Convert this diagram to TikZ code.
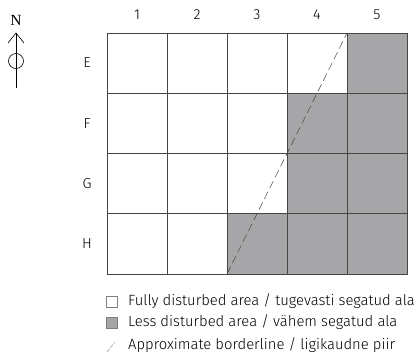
\documentclass[tikz,border=0pt]{standalone}
\usepackage{fontspec}
\setmainfont{Fira Sans}[UprightFont=* Light]
\newfontfamily\nfont{Liberation Serif}
\usepackage{tikz}

\definecolor{lessgray}{RGB}{166,166,169}
\definecolor{gridline}{RGB}{70,70,70}

\tikzset{
  cell/.style={draw=gridline, line width=0.9pt},
  lesscell/.style={cell, fill=lessgray},
  border/.style={dash pattern=on 8pt off 4pt, line width=0.5pt, draw=gridline},
  keybox/.style={draw=gridline!70, line width=0.5pt, minimum size=11pt, inner sep=0pt},
  keytext/.style={anchor=west, inner sep=0pt, font=\fontsize{14.8}{16}\selectfont},
  axis/.style={inner sep=0pt, font=\fontsize{14.5}{16}\selectfont}
}

\begin{document}
\begin{tikzpicture}[x=1pt, y=-1pt]
  \useasboundingbox (0,0) rectangle (415,359);

  % north arrow
  \node[inner sep=0pt, font=\nfont\fontsize{15.5}{17}\selectfont] (north) at (16,20) {N};
  \coordinate (ntip) at (16,33);
  \coordinate (nfoot) at (16,88);
  \draw[line width=0.6pt] (nfoot) -- (ntip);
  \draw[line width=0.6pt] (8,43) -- (ntip) -- (24,43);
  \draw[line width=0.6pt] (16,61) circle (7.5);

  % cells: columns 1-5, rows E-H
  \foreach \c in {1,...,5}
    \foreach \r in {1,...,4}
      \draw[cell] ({107+60*(\c-1)},{33+60.25*(\r-1)}) rectangle +(60,60.25);
  \foreach \c/\r in {5/1, 4/2, 5/2, 4/3, 5/3, 3/4, 4/4, 5/4}
    \draw[lesscell] ({107+60*(\c-1)},{33+60.25*(\r-1)}) rectangle +(60,60.25);

  % column and row labels
  \foreach \c in {1,...,5}
    \node[axis] (col\c) at ({137+60*(\c-1)},15) {\c};
  \foreach \l [count=\r] in {E,F,G,H}
    \node[axis] (row\l) at (87,{63+60.25*(\r-1)}) {\l};

  % borderline
  \coordinate (bottomend) at (227,274);
  \coordinate (topend) at (347,33);
  \draw[border] (bottomend) -- (topend);

  % legend
  \node[keybox] (key1) at (112,301.5) {};
  \node[keybox, fill=lessgray] (key2) at (112,322.5) {};
  \coordinate (key3a) at (107,352);
  \coordinate (key3b) at (115,342);
  \draw[gridline!60, dash pattern=on 4pt off 1.5pt, line width=0.5pt] (key3a) -- (key3b);
  \node[keytext] (text1) at (128,301.5) {Fully disturbed area / tugevasti segatud ala};
  \node[keytext] (text2) at (128,322.5) {Less disturbed area / vähem segatud ala};
  \node[keytext] (text3) at (128,345.5) {Approximate borderline / ligikaudne piir};
\end{tikzpicture}
\end{document}
